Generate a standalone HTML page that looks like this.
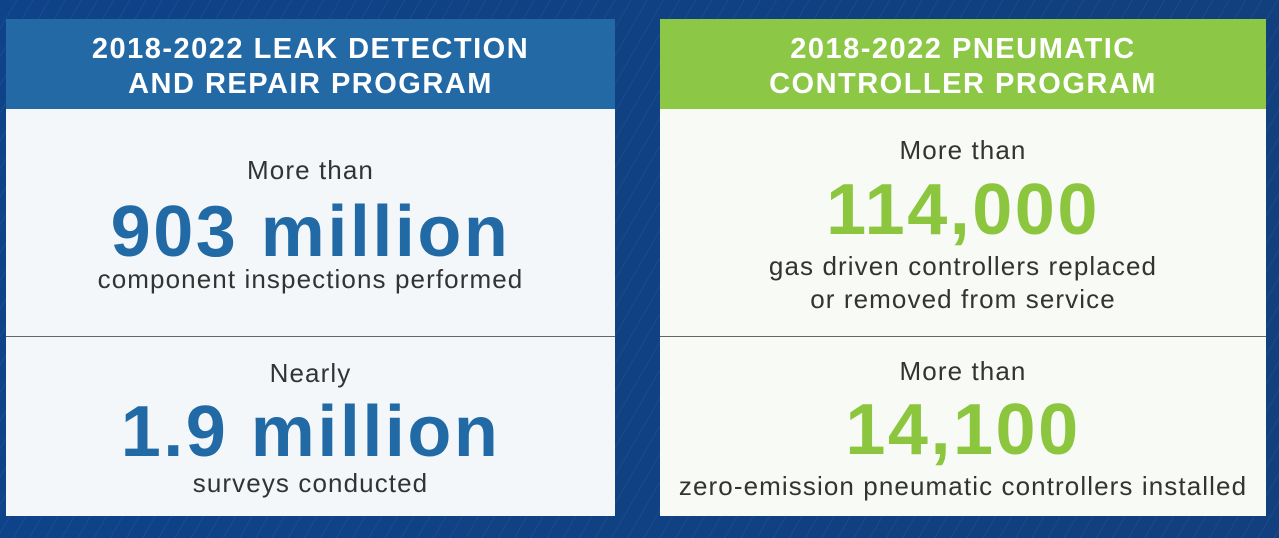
<!DOCTYPE html>
<html><head><style>
body{margin:0;width:1279px;height:538px;overflow:hidden;background:#0f4488;font-family:"Liberation Sans",sans-serif;position:relative;
background-image:repeating-linear-gradient(120deg,rgba(255,255,255,0.05) 0 1px,transparent 1px 14px),linear-gradient(90deg,#0e4389,#123f7d);}
.p{position:absolute;top:19px;height:497px;}
.h{position:absolute;left:0;right:0;top:0;height:90px;color:#fff;font-weight:bold;font-size:29px;text-align:center;line-height:35px;box-sizing:border-box;padding-top:13px;letter-spacing:1.5px}
.b{position:absolute;left:0;right:0;top:90px;bottom:0;}
.d{position:absolute;left:0;right:0;top:317px;height:1px;background:#666;}
.t{position:absolute;left:0;right:0;text-align:center;color:#333;white-space:nowrap}
.s{font-size:26px;line-height:26px;letter-spacing:1.1px}
.n{font-weight:bold;font-size:72px;line-height:72px;letter-spacing:2.5px}
</style></head><body>
<div class="p" style="left:6px;width:609px">
<div class="h" style="background:#2369a5">2018-2022 LEAK DETECTION<br>AND REPAIR PROGRAM</div>
<div class="b" style="background:#f3f7fa"></div>
<div class="d"></div>
<div class="t s" style="top:138px">More than</div>
<div class="t n" style="top:177px;color:#226aa6">903 million</div>
<div class="t s" style="top:247px">component inspections performed</div>
<div class="t s" style="top:341px">Nearly</div>
<div class="t n" style="top:377px;color:#226aa6">1.9 million</div>
<div class="t s" style="top:451px">surveys conducted</div>
</div>
<div class="p" style="left:660px;width:606px">
<div class="h" style="background:#8cc746">2018-2022 PNEUMATIC<br>CONTROLLER PROGRAM</div>
<div class="b" style="background:#f8faf5"></div>
<div class="d"></div>
<div class="t s" style="top:118px">More than</div>
<div class="t n" style="top:155px;color:#8cc63f">114,000</div>
<div class="t s" style="top:234px">gas driven controllers replaced</div>
<div class="t s" style="top:267px">or removed from service</div>
<div class="t s" style="top:339px">More than</div>
<div class="t n" style="top:375px;color:#8cc63f">14,100</div>
<div class="t s" style="top:454px">zero-emission pneumatic controllers installed</div>
</div>
</body></html>
